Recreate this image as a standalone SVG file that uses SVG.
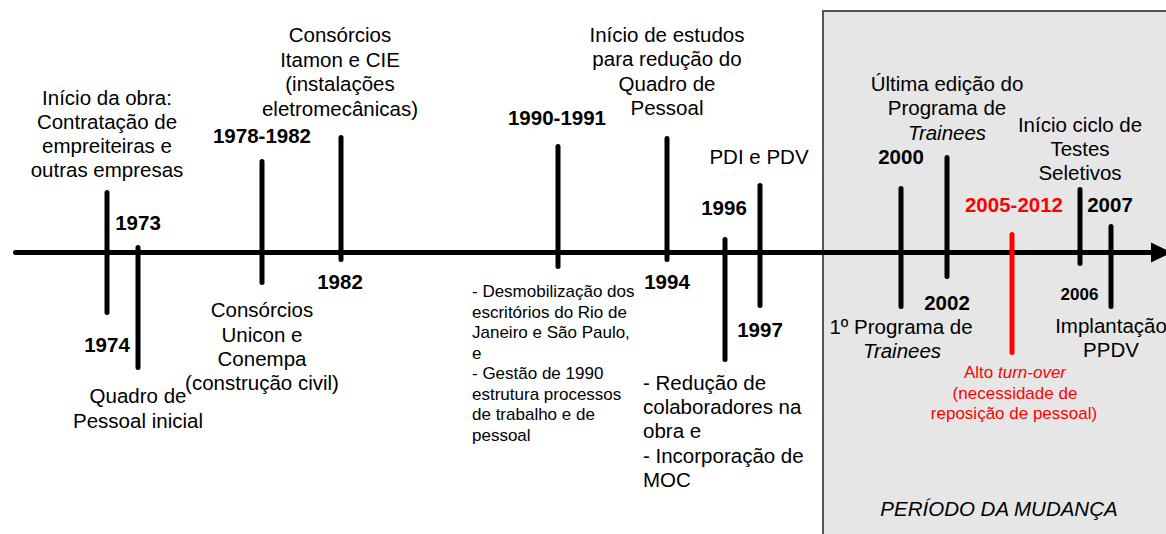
<svg xmlns="http://www.w3.org/2000/svg" width="1166" height="534" viewBox="0 0 1166 534">
<style>
text{font-family:"Liberation Sans",Arial,sans-serif;fill:#000}
.m{font-size:20.5px;text-anchor:middle}
.ml{font-size:20.5px}
.y{font-size:20.5px;font-weight:bold;text-anchor:middle}
.ys{font-size:17px;font-weight:bold;text-anchor:middle}
.s{font-size:17px}
.sc{font-size:17px;text-anchor:middle}
.r{fill:#ff0000}
.tick{stroke:#000;stroke-width:5;stroke-linecap:round;fill:none}
.tickr{stroke:#ff0000;stroke-width:5;stroke-linecap:round;fill:none}
</style>
<g id="period">
<rect x="823" y="11" width="350" height="540" fill="#e6e6e6" stroke="#555" stroke-width="2"/>
<text class="m" x="999" y="516" font-style="italic">PERÍODO DA MUDANÇA</text>
</g>
<g id="connectors">
<line class="tick" x1="15.5" y1="252.5" x2="1153" y2="252.5"/>
<polygon points="1151,242.5 1151,262.5 1172,252.5" fill="#000"/>
<line class="tick" x1="107" y1="192.5" x2="107" y2="312.5"/>
<line class="tick" x1="138" y1="247.5" x2="138" y2="367.5"/>
<line class="tick" x1="262" y1="161.5" x2="262" y2="282.5"/>
<line class="tick" x1="341" y1="137.5" x2="341" y2="259.5"/>
<line class="tick" x1="558" y1="146.5" x2="558" y2="266.5"/>
<line class="tick" x1="667" y1="138.5" x2="667" y2="259.5"/>
<line class="tick" x1="725" y1="239.5" x2="725" y2="359.5"/>
<line class="tick" x1="760" y1="185.5" x2="760" y2="305.5"/>
<line class="tick" x1="901" y1="188.5" x2="901" y2="306.5"/>
<line class="tick" x1="947" y1="157.5" x2="947" y2="276.5"/>
<line class="tickr" x1="1012" y1="234.5" x2="1012" y2="352.5"/>
<line class="tick" x1="1080" y1="189.5" x2="1080" y2="263.5"/>
<line class="tick" x1="1111" y1="226.5" x2="1111" y2="306.5"/>
</g>
<g id="n1973">
<text class="m" x="107" y="105">Início da obra:</text>
<text class="m" x="107" y="129">Contratação de</text>
<text class="m" x="107" y="153">empreiteiras e</text>
<text class="m" x="107" y="177">outras empresas</text>
<text class="y" x="138" y="230">1973</text>
</g>
<g id="n1974">
<text class="y" x="107" y="352">1974</text>
<text class="m" x="138" y="403">Quadro de</text>
<text class="m" x="138" y="428">Pessoal inicial</text>
</g>
<g id="n1978">
<text class="y" x="262" y="143">1978-1982</text>
<text class="m" x="262" y="317">Consórcios</text>
<text class="m" x="262" y="342">Unicon e</text>
<text class="m" x="262" y="366">Conempa</text>
<text class="m" x="262" y="390">(construção civil)</text>
</g>
<g id="n1982">
<text class="m" x="340" y="42">Consórcios</text>
<text class="m" x="340" y="66.5">Itamon e CIE</text>
<text class="m" x="340" y="91">(instalações</text>
<text class="m" x="340" y="115.5">eletromecânicas)</text>
<text class="y" x="340" y="289">1982</text>
</g>
<g id="n1990">
<text class="y" x="557" y="125">1990-1991</text>
<text class="s" x="472" y="297">- Desmobilização dos</text>
<text class="s" x="472" y="317.5">escritórios do Rio de</text>
<text class="s" x="472" y="338">Janeiro e São Paulo,</text>
<text class="s" x="472" y="358.5">e</text>
<text class="s" x="472" y="379">- Gestão de 1990</text>
<text class="s" x="472" y="399.5">estrutura processos</text>
<text class="s" x="472" y="420">de trabalho e de</text>
<text class="s" x="472" y="440.5">pessoal</text>
</g>
<g id="n1994">
<text class="m" x="667" y="42">Início de estudos</text>
<text class="m" x="667" y="66">para redução do</text>
<text class="m" x="667" y="90.5">Quadro de</text>
<text class="m" x="667" y="115">Pessoal</text>
<text class="y" x="667" y="289">1994</text>
</g>
<g id="n1996">
<text class="y" x="724" y="215">1996</text>
<text class="ml" x="643" y="390">- Redução de</text>
<text class="ml" x="643" y="414">colaboradores na</text>
<text class="ml" x="643" y="438">obra e</text>
<text class="ml" x="643" y="463">- Incorporação de</text>
<text class="ml" x="643" y="487">MOC</text>
</g>
<g id="n1997">
<text class="m" x="759" y="164">PDI e PDV</text>
<text class="y" x="760" y="337">1997</text>
</g>
<g id="n2000">
<text class="y" x="901" y="164">2000</text>
<text class="m" x="901" y="334">1º Programa de</text>
<text class="m" x="902" y="358" font-style="italic">Trainees</text>
</g>
<g id="n2002">
<text class="m" x="947" y="91">Última edição do</text>
<text class="m" x="947" y="115">Programa de</text>
<text class="m" x="947" y="139.5" font-style="italic">Trainees</text>
<text class="y" x="947" y="310">2002</text>
</g>
<g id="n2005">
<text class="y r" x="1014" y="212">2005-2012</text>
<text class="sc r" x="1015" y="378">Alto <tspan font-style="italic">turn-over</tspan></text>
<text class="sc r" x="1015" y="398.5">(necessidade de</text>
<text class="sc r" x="1014" y="418.5">reposição de pessoal)</text>
</g>
<g id="n2006">
<text class="m" x="1080" y="132">Início ciclo de</text>
<text class="m" x="1080" y="156">Testes</text>
<text class="m" x="1080" y="180">Seletivos</text>
<text class="ys" x="1079.5" y="300">2006</text>
</g>
<g id="n2007">
<text class="y" x="1110" y="212">2007</text>
<text class="m" x="1111" y="333">Implantação</text>
<text class="m" x="1111" y="357">PPDV</text>
</g>
</svg>
